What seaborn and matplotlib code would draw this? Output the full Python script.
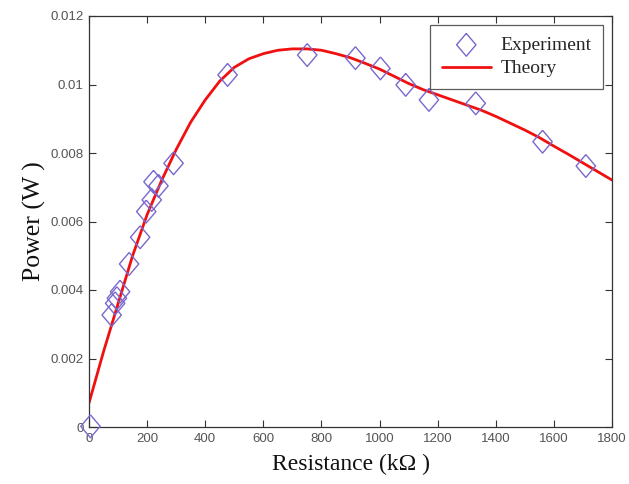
import matplotlib
matplotlib.use("Agg")
import matplotlib.pyplot as plt
import seaborn as sns
import pandas as pd

# Experimental data (resistance in kOhm, power in W)
exp_r = [5, 78, 90, 96, 107, 138, 176, 197, 216, 222, 239, 291, 477, 751,
         917, 1003, 1090, 1170, 1331, 1561, 1710]
exp_p = [0.00002, 0.00327, 0.00361, 0.00376, 0.00395, 0.00476, 0.00554,
         0.00629, 0.00663, 0.00716, 0.00704, 0.00770, 0.01028, 0.01086,
         0.01077, 0.01047, 0.00999, 0.00955, 0.00945, 0.00833, 0.00762]

# Theory curve
th_r = [0, 50, 100, 150, 200, 250, 300, 350, 400, 450, 500, 550, 600, 650,
        700, 750, 800, 850, 900, 950, 1000, 1050, 1100, 1150, 1200, 1250,
        1300, 1350, 1400, 1450, 1500, 1550, 1600, 1650, 1700, 1750, 1800]
th_p = [0.0007, 0.0022, 0.0036, 0.0050, 0.0062, 0.0072, 0.0081, 0.0089,
        0.00955, 0.0101, 0.0105, 0.01075, 0.0109, 0.0110, 0.01104, 0.01104,
        0.0110, 0.0109, 0.01078, 0.01062, 0.01045, 0.01024, 0.01003,
        0.00985, 0.00970, 0.00955, 0.00940, 0.00925, 0.00907, 0.00887,
        0.00867, 0.00845, 0.00820, 0.00796, 0.00771, 0.00746, 0.00721]

xticks = [0, 200, 400, 600, 800, 1000, 1200, 1400, 1600, 1800]
yticks = [0, 0.002, 0.004, 0.006, 0.008, 0.01, 0.012]
ytick_labels = ["0", "0.002", "0.004", "0.006", "0.008", "0.01", "0.012"]

sns.set_theme(style="white")
plt.rcParams["font.family"] = ["Liberation Sans", "DejaVu Sans"]

df_exp = pd.DataFrame({"r": exp_r, "p": exp_p})
df_th = pd.DataFrame({"r": th_r, "p": th_p})

diamond = [(0, 1), (0.85, 0), (0, -1), (-0.85, 0), (0, 1)]

fig = plt.figure(figsize=(6.29, 4.84), dpi=100)
ax = fig.add_axes([89 / 629, 1 - 427 / 484, (612 - 89) / 629, (427 - 16) / 484])

sns.lineplot(data=df_th, x="r", y="p", ax=ax, color="#f01010", linewidth=2.0,
             label="Theory", zorder=2)
sns.scatterplot(data=df_exp, x="r", y="p", ax=ax, marker=diamond, s=270,
                facecolor="none", edgecolor="#7a68cc", linewidth=1.0,
                label="Experiment", zorder=3, clip_on=False)

ax.set_xlim(0, 1800)
ax.set_ylim(0, 0.012)
ax.set_xticks(xticks)
ax.set_xticklabels([str(t) for t in xticks])
ax.set_yticks(yticks)
ax.set_yticklabels(ytick_labels)
ax.tick_params(direction="in", length=5, width=0.8, colors="#333333",
               labelcolor="#555555", labelsize=9.5, top=True, right=True,
               bottom=True, left=True, pad=4)
for s in ax.spines.values():
    s.set_color("#333333")
    s.set_linewidth(0.9)

ax.set_xlabel("Resistance (kΩ )", fontfamily="Liberation Serif", fontsize=17,
              color="#111111", labelpad=7)
ax.set_ylabel("Power (W )", fontfamily="Liberation Serif", fontsize=18.5,
              color="#111111", labelpad=3)

handles, labels = ax.get_legend_handles_labels()
order = [labels.index("Experiment"), labels.index("Theory")]
leg = ax.legend([handles[i] for i in order], [labels[i] for i in order],
                loc="upper right", bbox_to_anchor=(0.983, 0.979),
                borderaxespad=0,
                prop={"family": "Liberation Serif", "size": 14},
                frameon=True, fancybox=False, edgecolor="#333333",
                handlelength=2.5, handletextpad=0.5, borderpad=0.6,
                labelspacing=0.3)
leg.get_frame().set_linewidth(0.9)

fig.savefig("out.png", dpi=100)
